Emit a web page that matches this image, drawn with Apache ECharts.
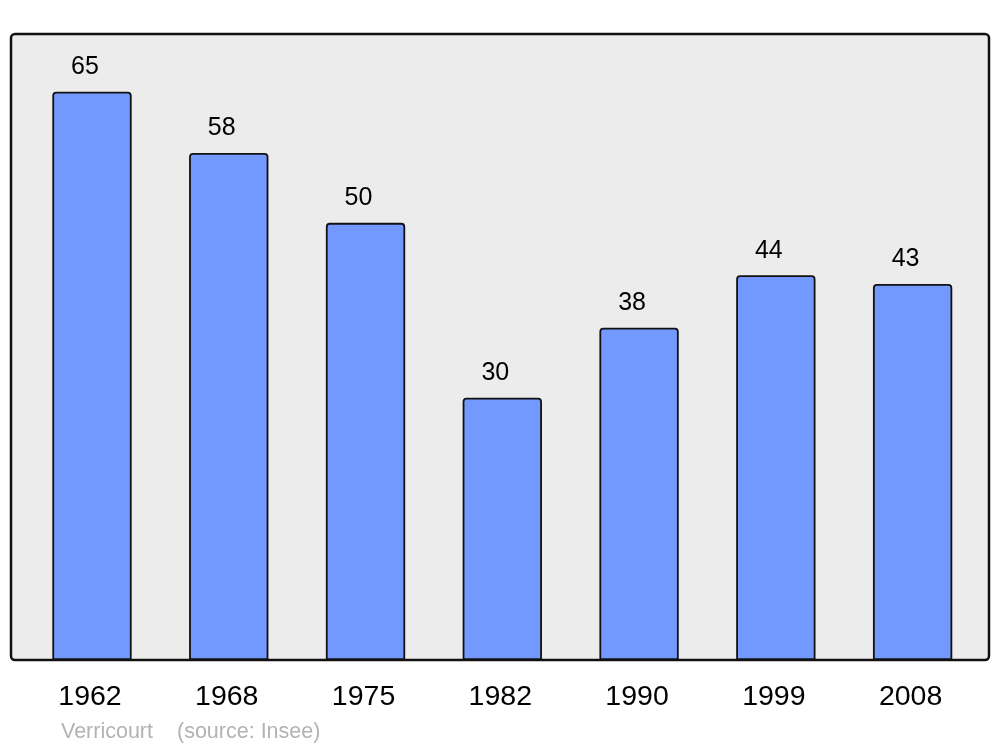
<!DOCTYPE html>
<html><head><meta charset="utf-8">
<script src="https://cdn.jsdelivr.net/npm/echarts@6/dist/echarts.min.js"></script>
<style>html,body{margin:0;padding:0;background:#fff}#c{width:1000px;height:747px}</style>
</head><body><div id="c"></div>
<script>
const years = ['1962','1968','1975','1982','1990','1999','2008'];
const population = [65, 58, 50, 30, 38, 44, 43];
const communeName = 'Verricourt';
const sourceText = '(source: Insee)';

const FONT = '"Liberation Sans", Arial, sans-serif';
const chart = echarts.init(document.getElementById('c'), null, {renderer: 'canvas'});
chart.setOption({
  animation: false,
  backgroundColor: '#ffffff',
  graphic: [
    {type: 'rect', z: -10, shape: {x: 11, y: 34, width: 978, height: 626, r: 4},
     style: {fill: '#ececec', stroke: '#111', lineWidth: 2.5}},
    {type: 'text', left: 61, top: 721, style: {text: communeName, fill: '#b3b3b3', font: '21.5px ' + FONT}},
    {type: 'text', left: 177, top: 721, style: {text: sourceText, fill: '#b3b3b3', font: '21.5px ' + FONT}}
  ],
  grid: {left: 23.6, right: 19, top: 34, bottom: 87},
  xAxis: {
    type: 'category', data: years,
    axisLine: {show: false}, axisTick: {show: false},
    axisLabel: {color: '#000', fontSize: 28.5, fontFamily: FONT, margin: 23, padding: [0, 4, 0, 0]}
  },
  yAxis: {type: 'value', min: 0, max: 71.6, show: false, splitLine: {show: false}},
  series: [{
    type: 'bar', data: population, barWidth: '58%',
    itemStyle: {color: '#7399ff', borderColor: '#111', borderWidth: 1.8, borderRadius: [3,3,0,0]},
    label: {show: true, position: 'top', distance: 12, offset: [-7, 0], color: '#000', fontSize: 25, fontFamily: FONT}
  }]
});
</script></body></html>
